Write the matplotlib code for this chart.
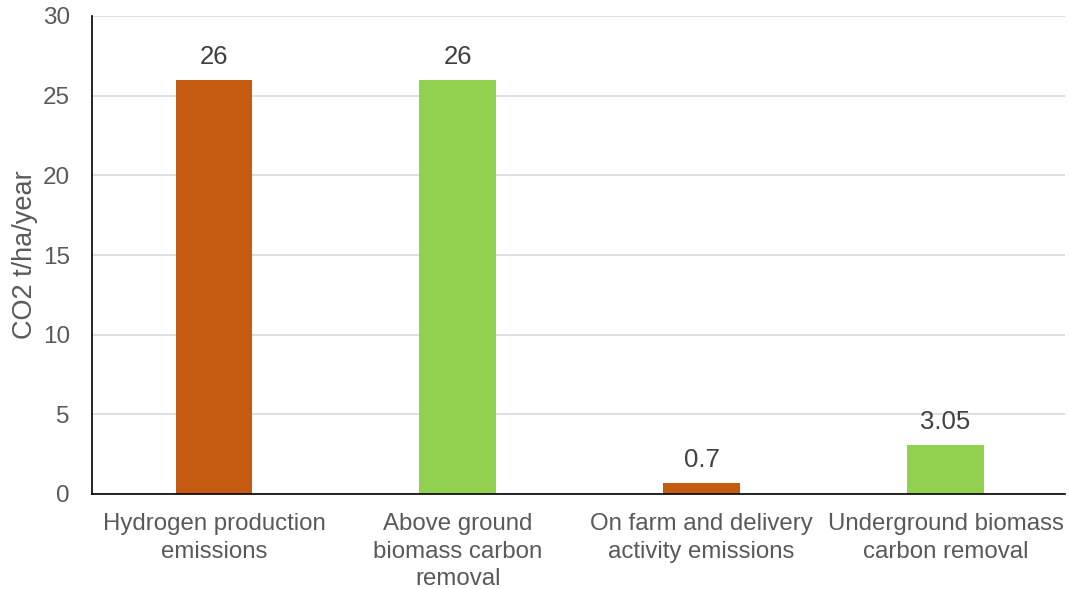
import matplotlib
matplotlib.use("Agg")
import matplotlib.pyplot as plt
import numpy as np

plt.rcParams['font.family'] = ['Liberation Sans', 'DejaVu Sans']

categories = ["Hydrogen production\nemissions",
              "Above ground\nbiomass carbon\nremoval",
              "On farm and delivery\nactivity emissions",
              "Underground biomass\ncarbon removal"]
values = [26, 26, 0.7, 3.05]
value_labels = ["26", "26", "0.7", "3.05"]
colors = ["#C55A11", "#92D050", "#C55A11", "#92D050"]
yticks = [0, 5, 10, 15, 20, 25, 30]

fig = plt.figure(figsize=(10.69, 5.89), dpi=100)
ax = fig.add_axes([92/1069, 1-494/589, (1065-92)/1069, (494-16)/589])

x = np.arange(len(categories))
bars = ax.bar(x, values, width=0.315, color=colors, zorder=2)

# value labels above bars
for b, lab in zip(bars, value_labels):
    ax.annotate(lab, (b.get_x() + b.get_width()/2, b.get_height()),
                xytext=(0, 8), textcoords="offset points",
                ha="center", va="bottom", fontsize=18.5, color="#404040")

ax.set_xlim(-0.5, 3.49)
ax.set_ylim(0, 30)
ax.set_yticks(yticks)
ax.set_xticks(x)
ax.set_xticklabels(categories, fontsize=17.3, color="#595959", linespacing=1.3)
ax.tick_params(axis="y", labelsize=17.5, labelcolor="#595959", length=0, pad=16)
ax.tick_params(axis="x", length=0, pad=14)
ax.yaxis.grid(True, color="#D9D9D9", linewidth=1.2, zorder=0)
ax.set_axisbelow(True)
for s in ["top", "right"]:
    ax.spines[s].set_visible(False)
ax.spines["left"].set_color("#000000")
ax.spines["bottom"].set_color("#000000")
ax.spines["left"].set_linewidth(1.2)
ax.spines["bottom"].set_linewidth(1.2)
ax.set_ylabel("CO2 t/ha/year", fontsize=19.5, color="#595959", labelpad=3)

fig.savefig("out.png", dpi=100)
